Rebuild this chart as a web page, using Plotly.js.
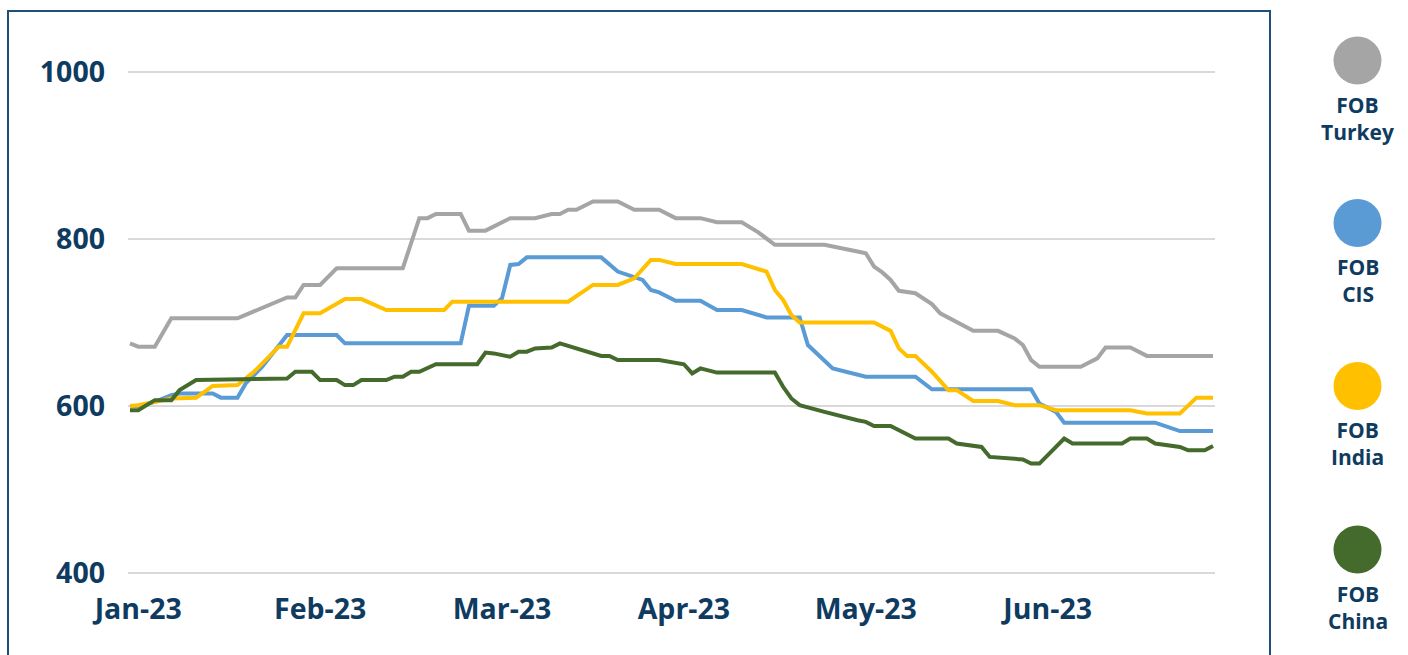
<!DOCTYPE html>
<html>
<head>
<meta charset="utf-8">
<script src="https://cdn.plot.ly/plotly-3.0.1.min.js"></script>
<style>
html,body{margin:0;padding:0;background:#fff;}
#chart{width:1408px;height:655px;}
</style>
</head>
<body>
<div id="chart"></div>
<script>
// Trading-day index positions where each series changes direction, and its value there
const seriesNames = ["FOB<br>Turkey", "FOB<br>CIS", "FOB<br>India", "FOB<br>China"];

const turkeyDay = [0,1,3,5,13,19,20,21,23,25,33,35,36,37,40,41,43,46,49,51,52,53,54,56,59,61,64,66,69,71,74,76,78,84,88,89,90,91,92,93,95,97,98,99,100,102,105,107,108,109,110,115,117,118,121,123,131];
const turkeyVal = [675,671,671,705,705,730,730,745,745,765,765,825,825,830,830,810,810,825,825,830,830,835,835,845,845,835,835,825,825,820,820,808,793,793,785,783,767,760,751,738,735,722,711,706,701,690,690,681,673,655,647,647,657,670,670,660,660];

const cisDay = [0,1,3,5,6,10,11,13,14,16,19,25,26,40,41,44,45,46,47,48,57,59,62,63,64,66,69,71,74,77,81,82,85,89,95,97,109,110,112,113,124,127,131];
const cisVal = [600,600,605,613,615,615,610,610,627,647,685,685,675,675,720,720,729,769,770,778,778,761,751,739,736,726,726,715,715,706,706,673,645,635,635,620,620,603,593,580,580,570,570];

const indiaDay = [0,1,5,8,9,10,13,15,18,19,21,23,26,28,31,38,39,53,56,59,61,63,64,66,74,77,78,79,80,81,90,92,93,94,95,97,99,100,102,105,107,110,112,121,123,127,129,131];
const indiaVal = [600,601,609,610,617,624,625,641,671,671,711,711,728,728,715,715,725,725,745,745,753,775,775,770,770,761,739,727,709,700,700,690,669,660,660,641,619,619,606,606,601,601,595,595,591,591,610,610];

const chinaDay = [0,1,3,5,6,7,8,19,20,22,23,25,26,27,28,31,32,33,34,35,37,42,43,44,46,47,48,49,51,52,53,54,55,57,58,59,64,66,67,68,69,71,78,79,80,81,83,84,88,89,90,92,95,99,100,102,103,104,108,109,110,113,114,120,121,123,124,127,128,130,131];
const chinaVal = [595,595,607,607,619,625,631,633,641,641,631,631,625,625,631,631,635,635,641,641,650,650,664,663,659,665,665,669,670,675,672,670,666,660,660,655,655,651,650,639,645,640,640,623,609,601,595,593,583,581,576,576,561,561,555,552,551,539,536,531,531,561,555,555,561,561,555,551,547,547,552];

const tickDays = [1,23,45,67,89,111];
const tickLabels = ["Jan-23","Feb-23","Mar-23","Apr-23","May-23","Jun-23"];
const yTicks = [400,600,800,1000];

const colors = ["#A5A5A5","#5B9BD5","#FFC000","#446A2C"];
const navy = "#0F3B60";
const font = "'Open Sans', 'Noto Sans', sans-serif";

const xs = [turkeyDay, cisDay, indiaDay, chinaDay];
const ys = [turkeyVal, cisVal, indiaVal, chinaVal];

const traces = xs.map((x, k) => ({
  type: "scatter", mode: "lines",
  x: x, y: ys[k],
  name: seriesNames[k].replace("<br>", " "),
  line: {color: colors[k], width: 4},
  hoverinfo: "x+y"
}));

// plot area in pixels (padded so the edge gridlines are drawn)
const L = 128, R = 1215, T = 69, B = 576, W = 1408, H = 655;
const pw = R - L, ph = B - T;
const px = v => (v - L) / pw;
const py = v => (B - v) / ph;

const shapes = [{
  type: "rect", xref: "paper", yref: "paper",
  x0: px(8), x1: px(1270), y0: py(670), y1: py(11),
  line: {color: "#1F4E79", width: 2}, fillcolor: "rgba(0,0,0,0)", layer: "below"
}];
const annotations = [];
const legendY = [60.5, 223, 386, 549.5];
const legendX = 1357.5, rad = 24;
seriesNames.forEach((n, k) => {
  shapes.push({
    type: "circle", xref: "paper", yref: "paper",
    x0: px(legendX - rad), x1: px(legendX + rad),
    y0: py(legendY[k] + rad), y1: py(legendY[k] - rad),
    fillcolor: colors[k], line: {width: 0}
  });
  annotations.push({
    xref: "paper", yref: "paper",
    x: px(legendX), y: py(legendY[k] + 57.5),
    xanchor: "center", yanchor: "middle",
    text: "<b>" + n + "</b>", showarrow: false,
    font: {family: font, size: 21, color: navy}
  });
});

const layout = {
  width: W, height: H,
  margin: {l: L, r: W - R, t: T, b: H - B, pad: 0},
  paper_bgcolor: "#fff", plot_bgcolor: "#fff",
  showlegend: false,
  xaxis: {
    range: [-0.24, 131.24],
    tickmode: "array", tickvals: tickDays, ticktext: tickLabels.map(t => "<b>" + t + "</b>"),
    showgrid: false, zeroline: false, showline: false,
    ticks: "", ticklabelstandoff: 13,
    tickfont: {family: font, size: 28.5, color: navy}
  },
  yaxis: {
    range: [396.4, 1003.6],
    tickmode: "array", tickvals: yTicks, ticktext: yTicks.map(t => "<b>" + t + "</b>"),
    showgrid: true, gridcolor: "#D9D9D9", gridwidth: 1.5,
    zeroline: false, showline: false, ticks: "", ticklabelstandoff: 22,
    tickfont: {family: font, size: 28.5, color: navy}
  },
  shapes: shapes,
  annotations: annotations
};

Plotly.newPlot("chart", traces, layout, {displayModeBar: false, staticPlot: true});
</script>
</body>
</html>
